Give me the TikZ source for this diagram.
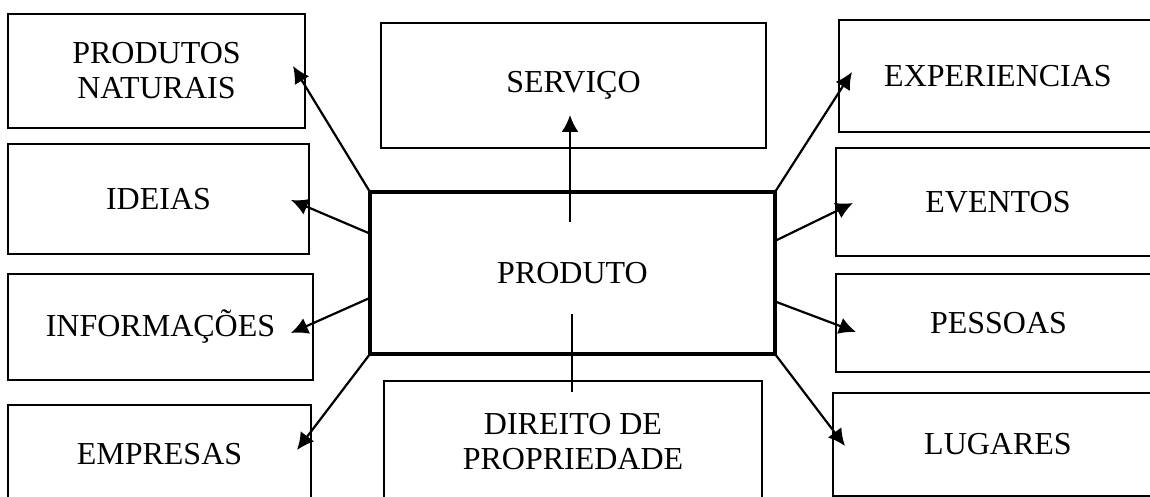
\documentclass[tikz,border=0pt]{standalone}
\usepackage{fontspec}
\setmainfont{Liberation Serif}
\usepackage{tikz}
\usetikzlibrary{arrows.meta}
\tikzset{>={Latex[length=8.5pt,width=8.5pt]}}
\tikzset{box/.style={draw,line width=1pt,rectangle,anchor=center,align=center,
    inner sep=0pt,outer sep=0pt,font=\fontsize{16}{17.5}\selectfont}}

\begin{document}
\begin{tikzpicture}[x=0.5pt,y=-0.5pt]
    \useasboundingbox (0,0) rectangle (1150,497);

    \coordinate (c-nat) at (156.5, 71);
    \coordinate (c-ide) at (158.5, 199);
    \coordinate (c-inf) at (160.5, 327);
    \coordinate (c-emp) at (159.5, 454);
    \coordinate (c-ser) at (573.5, 85.5);
    \coordinate (c-prod) at (572.5, 273);
    \coordinate (c-dir) at (573, 442);
    \coordinate (c-exp) at (998, 76);
    \coordinate (c-eve) at (998, 202);
    \coordinate (c-pes) at (998.5, 323);
    \coordinate (c-lug) at (998, 444.5);

    \node [box,minimum width=148.5pt,minimum height=57pt] (nat) at (c-nat)
    {PRODUTOS\\NATURAIS};
    \node [box,minimum width=150.5pt,minimum height=55pt] (ide) at (c-ide)
    {IDEIAS};
    \node [box,minimum width=152.5pt,minimum height=53pt] (inf) at (c-inf)
    {INFORMAÇÕES};
    \node [box,minimum width=151.5pt,minimum height=49pt] (emp) at (c-emp)
    {EMPRESAS};

    \node [box,minimum width=192.5pt,minimum height=62.5pt] (ser) at (c-ser)
    {SERVIÇO};
    \node [box,line width=2.2pt,minimum width=202.5pt,minimum height=81pt]
    (prod) at (c-prod) {PRODUTO};
    \node [box,minimum width=189pt,minimum height=61pt] (dir) at (c-dir)
    {DIREITO DE\\PROPRIEDADE};

    \node [box,minimum width=159pt,minimum height=56pt] (exp) at (c-exp)
    {EXPERIENCIAS};
    \node [box,minimum width=162pt,minimum height=54pt] (eve) at (c-eve)
    {EVENTOS};
    \node [box,minimum width=162.5pt,minimum height=49pt] (pes) at (c-pes)
    {PESSOAS};
    \node [box,minimum width=165pt,minimum height=51.5pt] (lug) at (c-lug)
    {LUGARES};

    \coordinate (t-nat) at (293, 66);
    \coordinate (t-ide) at (291, 200);
    \coordinate (t-inf) at (291, 333);
    \coordinate (t-emp) at (297, 450);
    \coordinate (t-exp) at (852, 72);
    \coordinate (t-eve) at (853, 203);
    \coordinate (t-pes) at (856, 332);
    \coordinate (t-lug) at (845, 446);
    \coordinate (s-up) at (570, 222);
    \coordinate (t-up) at (570, 115);
    \coordinate (s-down) at (572, 314);
    \coordinate (t-down) at (572, 392);

    \draw [->,line width=1.1pt] (prod.north west) -- (t-nat);
    \draw [->,line width=1.1pt] (prod.169) -- (t-ide);
    \draw [->,line width=1.1pt] (prod.187) -- (t-inf);
    \draw [->,line width=1.1pt] (prod.south west) -- (t-emp);
    \draw [->,line width=1.1pt] (prod.north east) -- (t-exp);
    \draw [->,line width=1.1pt] (prod.9) -- (t-eve);
    \draw [->,line width=1.1pt] (prod.352) -- (t-pes);
    \draw [->,line width=1.1pt] (prod.south east) -- (t-lug);
    \draw [->,line width=1.1pt] (s-up) -- (t-up);
    \draw [line width=1.1pt] (s-down) -- (t-down);
\end{tikzpicture}
\end{document}
